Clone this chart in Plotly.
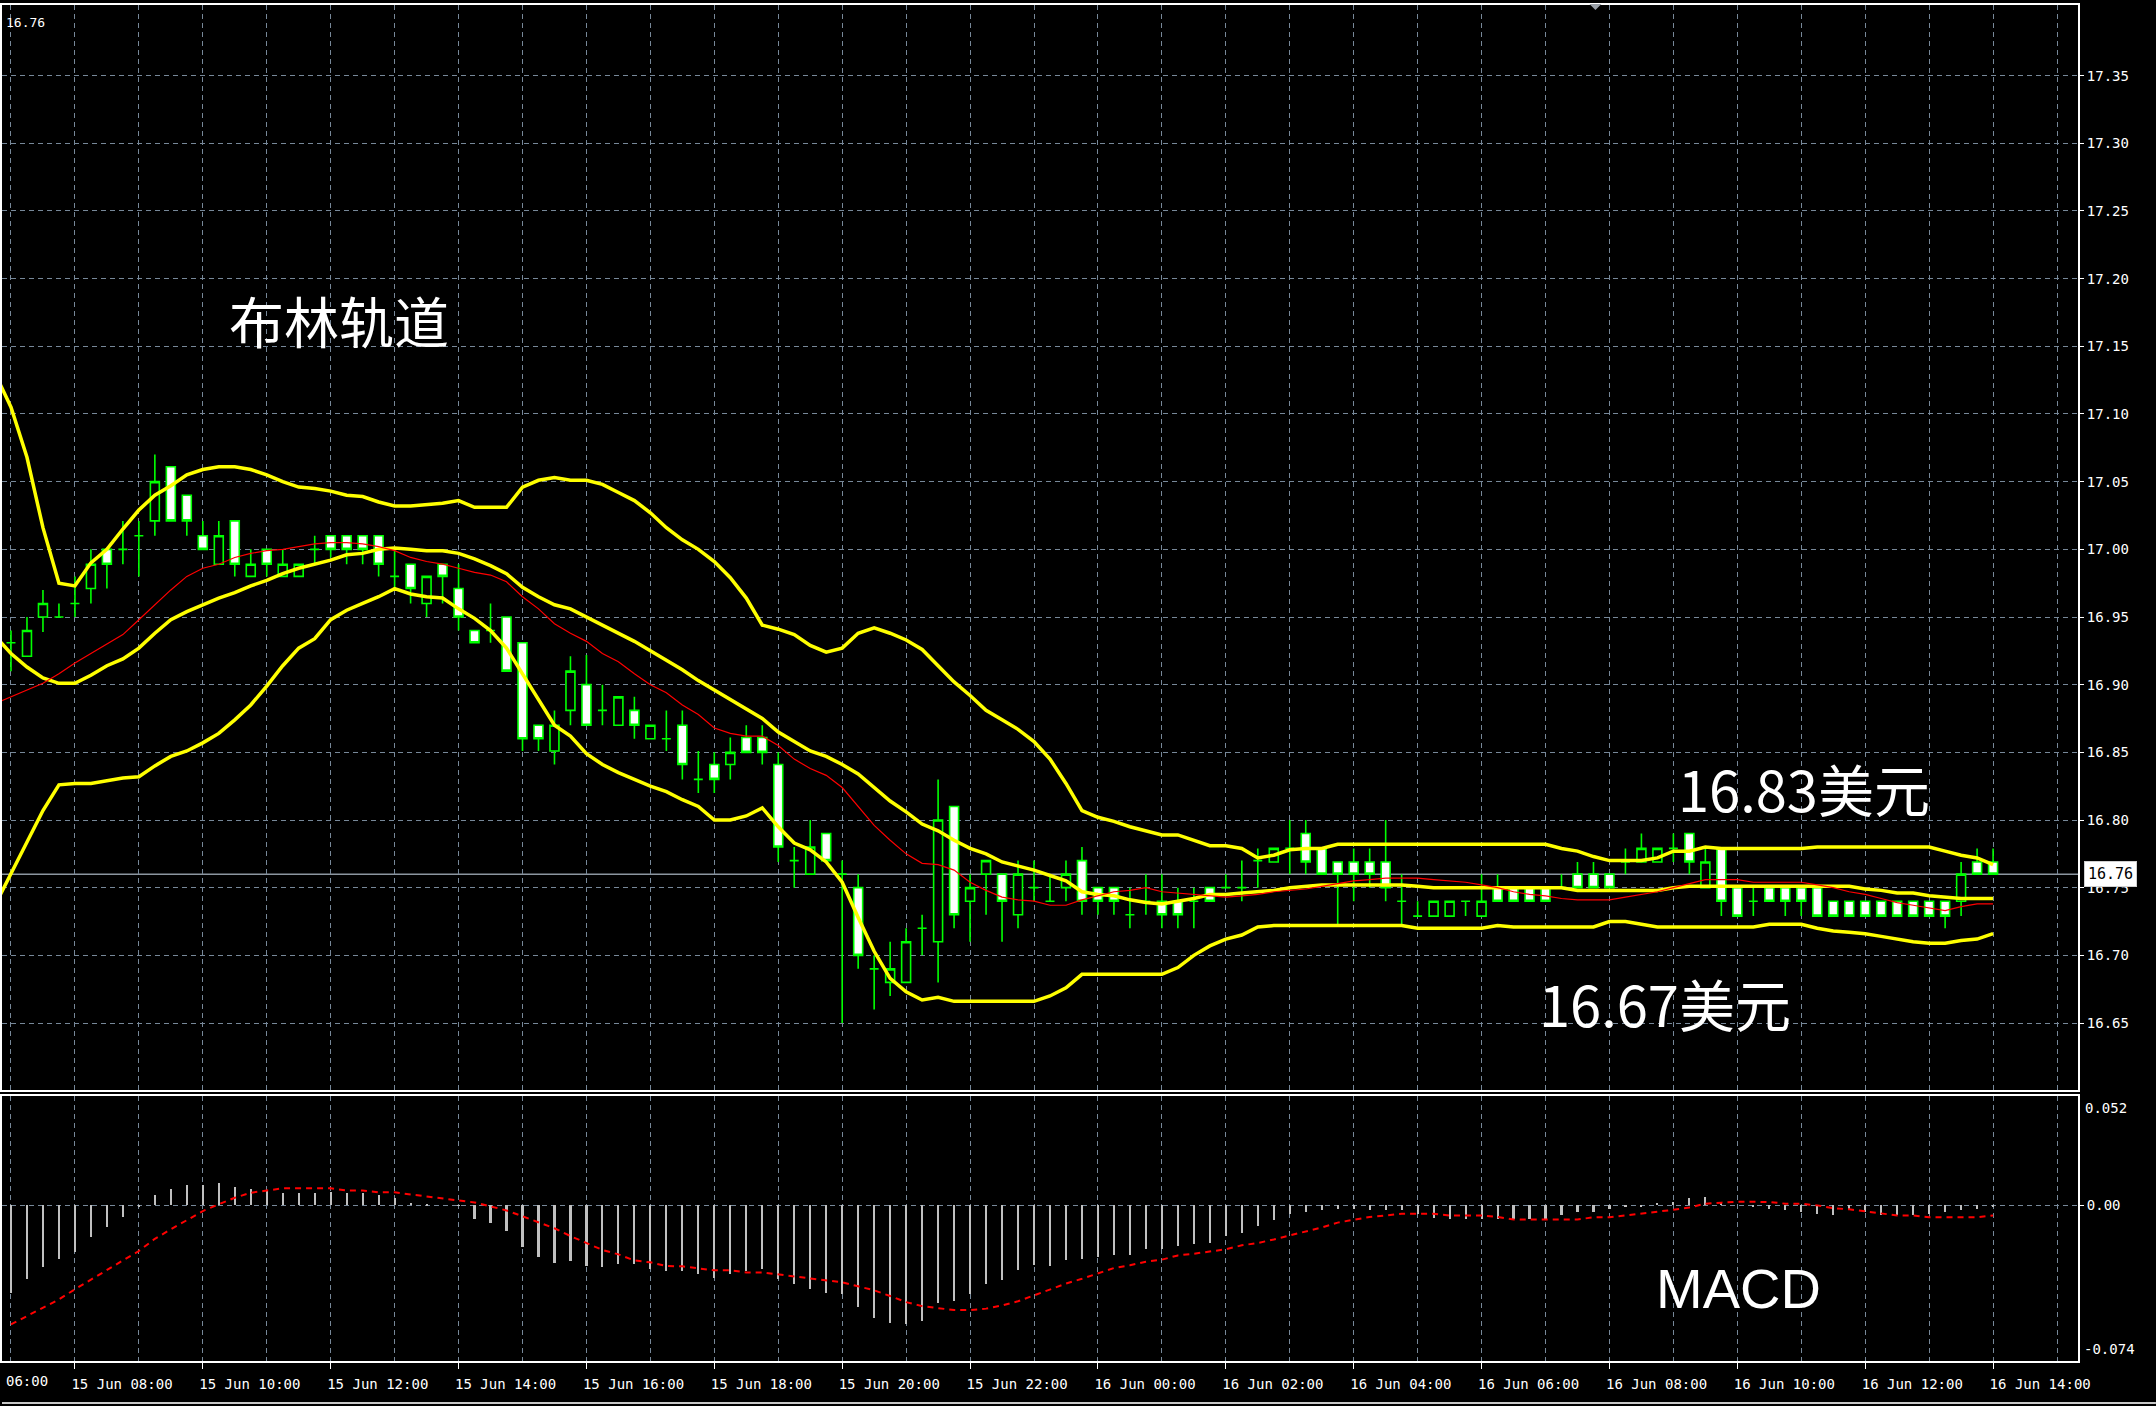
import pandas as pd
import plotly.graph_objects as go
from plotly.subplots import make_subplots

# ---------------- data ----------------
candle_start = "2017-06-15 07:00"   # 15-minute candles
line_start = "2017-06-15 06:45"     # indicator lines start one bar earlier (left edge)

opens = [16.931, 16.921, 16.950, 16.950, 16.960, 16.971, 17.000, 17.000, 17.010, 17.021,
         17.061, 17.040, 17.010, 16.989, 17.021, 16.980, 17.000, 16.980, 16.980, 17.000,
         17.010, 17.010, 17.010, 17.010, 16.980, 16.989, 16.960, 16.989, 16.971, 16.940,
         16.940, 16.950, 16.931, 16.870, 16.851, 16.881, 16.900, 16.881, 16.870, 16.881,
         16.860, 16.860, 16.870, 16.830, 16.841, 16.841, 16.861, 16.861, 16.841, 16.770,
         16.760, 16.790, 16.760, 16.750, 16.690, 16.680, 16.680, 16.720, 16.710, 16.810,
         16.740, 16.760, 16.760, 16.730, 16.750, 16.740, 16.750, 16.770, 16.750, 16.750,
         16.730, 16.740, 16.740, 16.740, 16.740, 16.750, 16.750, 16.750, 16.770, 16.769,
         16.779, 16.790, 16.779, 16.769, 16.769, 16.769, 16.769, 16.740, 16.729, 16.729,
         16.729, 16.740, 16.729, 16.750, 16.750, 16.750, 16.750, 16.750, 16.760, 16.760,
         16.760, 16.769, 16.769, 16.769, 16.779, 16.790, 16.750, 16.779, 16.750, 16.740,
         16.750, 16.750, 16.750, 16.750, 16.740, 16.740, 16.740, 16.740, 16.740, 16.740,
         16.740, 16.740, 16.740, 16.769, 16.769]
highs = [16.940, 16.950, 16.970, 16.960, 16.980, 17.000, 17.000, 17.021, 17.021, 17.070,
         17.061, 17.040, 17.021, 17.021, 17.021, 17.000, 17.000, 17.000, 16.989, 17.010,
         17.010, 17.010, 17.010, 17.010, 17.000, 16.989, 16.980, 16.989, 16.989, 16.940,
         16.960, 16.950, 16.931, 16.870, 16.881, 16.921, 16.922, 16.900, 16.891, 16.891,
         16.870, 16.881, 16.881, 16.851, 16.850, 16.861, 16.870, 16.870, 16.850, 16.780,
         16.800, 16.790, 16.770, 16.760, 16.700, 16.710, 16.720, 16.730, 16.830, 16.810,
         16.760, 16.770, 16.760, 16.770, 16.770, 16.760, 16.770, 16.780, 16.750, 16.750,
         16.750, 16.760, 16.760, 16.750, 16.750, 16.750, 16.760, 16.770, 16.779, 16.779,
         16.800, 16.800, 16.779, 16.769, 16.779, 16.779, 16.800, 16.760, 16.740, 16.740,
         16.740, 16.740, 16.760, 16.760, 16.750, 16.750, 16.750, 16.760, 16.769, 16.769,
         16.760, 16.779, 16.790, 16.779, 16.790, 16.790, 16.779, 16.779, 16.750, 16.750,
         16.750, 16.750, 16.750, 16.750, 16.740, 16.740, 16.740, 16.740, 16.740, 16.740,
         16.740, 16.740, 16.769, 16.779, 16.779]
lows = [16.910, 16.921, 16.939, 16.950, 16.950, 16.960, 16.971, 16.989, 16.980, 17.010,
        17.021, 17.010, 17.000, 16.989, 16.980, 16.980, 16.980, 16.980, 16.980, 16.989,
        16.994, 16.989, 16.989, 16.980, 16.971, 16.960, 16.950, 16.960, 16.940, 16.931,
        16.931, 16.910, 16.851, 16.851, 16.841, 16.870, 16.870, 16.870, 16.870, 16.860,
        16.860, 16.851, 16.830, 16.820, 16.820, 16.830, 16.850, 16.841, 16.769, 16.750,
        16.760, 16.770, 16.650, 16.690, 16.660, 16.670, 16.680, 16.700, 16.680, 16.720,
        16.710, 16.730, 16.710, 16.720, 16.740, 16.740, 16.740, 16.730, 16.730, 16.730,
        16.720, 16.730, 16.720, 16.720, 16.720, 16.740, 16.750, 16.740, 16.750, 16.769,
        16.760, 16.760, 16.760, 16.723, 16.740, 16.750, 16.740, 16.723, 16.729, 16.729,
        16.729, 16.729, 16.729, 16.740, 16.740, 16.740, 16.740, 16.750, 16.750, 16.750,
        16.750, 16.760, 16.769, 16.769, 16.769, 16.760, 16.750, 16.729, 16.729, 16.729,
        16.740, 16.729, 16.729, 16.729, 16.729, 16.729, 16.729, 16.729, 16.729, 16.729,
        16.729, 16.720, 16.729, 16.760, 16.760]
closes = [16.931, 16.940, 16.960, 16.950, 16.960, 16.989, 16.989, 17.000, 17.010, 17.050,
          17.021, 17.021, 17.000, 17.010, 16.989, 16.989, 16.989, 16.989, 16.989, 17.000,
          17.000, 17.000, 17.000, 16.989, 16.980, 16.971, 16.980, 16.980, 16.950, 16.931,
          16.940, 16.910, 16.860, 16.860, 16.870, 16.910, 16.870, 16.881, 16.891, 16.870,
          16.870, 16.860, 16.841, 16.830, 16.830, 16.850, 16.850, 16.850, 16.780, 16.770,
          16.780, 16.770, 16.760, 16.700, 16.690, 16.690, 16.710, 16.720, 16.800, 16.730,
          16.750, 16.770, 16.740, 16.760, 16.750, 16.740, 16.760, 16.740, 16.740, 16.740,
          16.730, 16.740, 16.730, 16.730, 16.740, 16.740, 16.750, 16.750, 16.770, 16.779,
          16.779, 16.769, 16.760, 16.760, 16.760, 16.760, 16.750, 16.740, 16.729, 16.740,
          16.740, 16.740, 16.740, 16.740, 16.740, 16.740, 16.740, 16.750, 16.750, 16.750,
          16.750, 16.769, 16.779, 16.779, 16.779, 16.769, 16.769, 16.740, 16.729, 16.740,
          16.740, 16.740, 16.740, 16.729, 16.729, 16.729, 16.729, 16.729, 16.729, 16.729,
          16.729, 16.729, 16.760, 16.760, 16.760]

bb_upper = [17.130, 17.105, 17.068, 17.016, 16.975, 16.973, 16.990, 17.000, 17.015, 17.029, 17.040,
            17.047, 17.055, 17.059, 17.061, 17.061, 17.059, 17.055, 17.050, 17.046, 17.045,
            17.043, 17.040, 17.039, 17.035, 17.032, 17.032, 17.033, 17.034, 17.036, 17.031,
            17.031, 17.031, 17.046, 17.051, 17.053, 17.051, 17.051, 17.048, 17.042, 17.036,
            17.027, 17.016, 17.007, 17.000, 16.991, 16.979, 16.964, 16.944, 16.941, 16.937,
            16.929, 16.924, 16.927, 16.938, 16.942, 16.938, 16.933, 16.926, 16.914, 16.902,
            16.892, 16.881, 16.874, 16.867, 16.858, 16.845, 16.827, 16.807, 16.802, 16.799,
            16.795, 16.792, 16.789, 16.789, 16.785, 16.781, 16.781, 16.779, 16.772, 16.774,
            16.778, 16.779, 16.779, 16.782, 16.782, 16.782, 16.782, 16.782, 16.782, 16.782,
            16.782, 16.782, 16.782, 16.782, 16.782, 16.782, 16.782, 16.779, 16.777, 16.773,
            16.770, 16.770, 16.770, 16.772, 16.777, 16.777, 16.780, 16.779, 16.779, 16.779,
            16.779, 16.779, 16.779, 16.780, 16.780, 16.780, 16.780, 16.780, 16.780, 16.780,
            16.780, 16.777, 16.774, 16.772, 16.767]
bb_middle = [16.936, 16.923, 16.913, 16.905, 16.901, 16.901, 16.907, 16.914, 16.919, 16.927, 16.938,
             16.948, 16.954, 16.959, 16.964, 16.968, 16.973, 16.977, 16.982, 16.986, 16.989,
             16.992, 16.996, 16.997, 17.000, 17.001, 17.000, 16.999, 16.999, 16.997, 16.993,
             16.988, 16.982, 16.972, 16.965, 16.959, 16.956, 16.950, 16.944, 16.938, 16.932,
             16.925, 16.918, 16.911, 16.903, 16.896, 16.889, 16.882, 16.875, 16.865, 16.858,
             16.851, 16.847, 16.841, 16.834, 16.824, 16.814, 16.806, 16.797, 16.792, 16.785,
             16.779, 16.775, 16.769, 16.766, 16.763, 16.759, 16.755, 16.747, 16.745, 16.744,
             16.741, 16.739, 16.738, 16.740, 16.742, 16.745, 16.745, 16.746, 16.747, 16.748,
             16.750, 16.751, 16.752, 16.752, 16.752, 16.752, 16.752, 16.752, 16.751, 16.750,
             16.750, 16.750, 16.750, 16.750, 16.750, 16.750, 16.750, 16.750, 16.748, 16.748,
             16.748, 16.748, 16.748, 16.748, 16.750, 16.751, 16.751, 16.751, 16.751, 16.751,
             16.751, 16.751, 16.751, 16.751, 16.751, 16.751, 16.749, 16.748, 16.746, 16.746,
             16.744, 16.743, 16.742, 16.742, 16.742]
bb_lower = [16.737, 16.760, 16.783, 16.807, 16.826, 16.827, 16.827, 16.829, 16.831, 16.832, 16.840,
            16.847, 16.851, 16.857, 16.864, 16.874, 16.885, 16.899, 16.914, 16.927, 16.934,
            16.948, 16.955, 16.960, 16.965, 16.971, 16.967, 16.965, 16.964, 16.956, 16.949,
            16.940, 16.927, 16.908, 16.889, 16.870, 16.862, 16.849, 16.841, 16.835, 16.830,
            16.825, 16.821, 16.815, 16.810, 16.800, 16.800, 16.803, 16.809, 16.795, 16.783,
            16.778, 16.769, 16.754, 16.728, 16.703, 16.683, 16.673, 16.667, 16.669, 16.666,
            16.666, 16.666, 16.666, 16.666, 16.666, 16.670, 16.676, 16.686, 16.686, 16.686,
            16.686, 16.686, 16.686, 16.691, 16.700, 16.707, 16.712, 16.715, 16.721, 16.722,
            16.722, 16.722, 16.722, 16.722, 16.722, 16.722, 16.722, 16.722, 16.720, 16.720,
            16.720, 16.720, 16.720, 16.722, 16.721, 16.721, 16.721, 16.721, 16.721, 16.721,
            16.725, 16.725, 16.723, 16.721, 16.721, 16.721, 16.721, 16.721, 16.721, 16.721,
            16.723, 16.723, 16.723, 16.720, 16.718, 16.717, 16.716, 16.714, 16.712, 16.710,
            16.709, 16.709, 16.711, 16.712, 16.716]
ma_red = [16.886, 16.891, 16.896, 16.901, 16.908, 16.916, 16.923, 16.930, 16.937, 16.948, 16.959,
          16.970, 16.980, 16.986, 16.989, 16.994, 16.997, 16.999, 17.000, 17.002, 17.004,
          17.005, 17.005, 17.004, 17.002, 16.999, 16.994, 16.991, 16.989, 16.986, 16.983,
          16.981, 16.976, 16.965, 16.956, 16.945, 16.938, 16.932, 16.923, 16.917, 16.908,
          16.900, 16.894, 16.885, 16.878, 16.868, 16.864, 16.862, 16.862, 16.855, 16.845,
          16.838, 16.833, 16.824, 16.810, 16.796, 16.785, 16.775, 16.768, 16.767, 16.763,
          16.754, 16.748, 16.743, 16.741, 16.740, 16.737, 16.737, 16.741, 16.744, 16.747,
          16.748, 16.750, 16.747, 16.746, 16.745, 16.744, 16.743, 16.744, 16.745, 16.747,
          16.748, 16.749, 16.751, 16.753, 16.755, 16.756, 16.757, 16.757, 16.757, 16.756,
          16.755, 16.754, 16.752, 16.750, 16.747, 16.745, 16.744, 16.742, 16.741, 16.741,
          16.741, 16.743, 16.745, 16.747, 16.750, 16.753, 16.756, 16.756, 16.756, 16.754,
          16.754, 16.754, 16.754, 16.752, 16.750, 16.747, 16.745, 16.742, 16.739, 16.737,
          16.735, 16.733, 16.736, 16.738, 16.738]

macd_hist = [-0.0415, -0.0352, -0.0293, -0.0257, -0.0222, -0.0151, -0.0103, -0.0055, -0.0005, 0.0048,
             0.0076, 0.0095, 0.0095, 0.0105, 0.0087, 0.0076, 0.0068, 0.0057, 0.0057, 0.0057,
             0.0065, 0.0057, 0.0057, 0.0048, 0.0036, 0.0010, 0.0003, 0.0000, -0.0003, -0.0067,
             -0.0086, -0.0122, -0.0198, -0.0246, -0.0273, -0.0265, -0.0288, -0.0293, -0.0281, -0.0281,
             -0.0304, -0.0312, -0.0312, -0.0328, -0.0344, -0.0328, -0.0312, -0.0304, -0.0352, -0.0376,
             -0.0399, -0.0415, -0.0423, -0.0483, -0.0534, -0.0558, -0.0566, -0.0550, -0.0463, -0.0455,
             -0.0423, -0.0376, -0.0357, -0.0309, -0.0285, -0.0290, -0.0261, -0.0254, -0.0246, -0.0235,
             -0.0235, -0.0206, -0.0206, -0.0195, -0.0185, -0.0178, -0.0147, -0.0130, -0.0100, -0.0071,
             -0.0040, -0.0032, -0.0024, -0.0019, -0.0019, -0.0024, -0.0024, -0.0024, -0.0040, -0.0060,
             -0.0063, -0.0063, -0.0063, -0.0063, -0.0063, -0.0063, -0.0063, -0.0048, -0.0032, -0.0032,
             -0.0016, -0.0008, -0.0008, 0.0013, 0.0016, 0.0035, 0.0040, 0.0016, 0.0000, -0.0008,
             -0.0016, -0.0024, -0.0032, -0.0040, -0.0044, -0.0024, -0.0032, -0.0048, -0.0048, -0.0048,
             -0.0040, -0.0032, -0.0024, -0.0016, -0.0008]
macd_signal = [-0.0566, -0.0526, -0.0483, -0.0447, -0.0399, -0.0352, -0.0307, -0.0262, -0.0217, -0.0159,
               -0.0114, -0.0071, -0.0027, 0.0005, 0.0036, 0.0060, 0.0071, 0.0081, 0.0081, 0.0081,
               0.0081, 0.0071, 0.0071, 0.0062, 0.0062, 0.0052, 0.0043, 0.0033, 0.0024, 0.0014,
               -0.0005, -0.0024, -0.0052, -0.0081, -0.0109, -0.0146, -0.0178, -0.0212, -0.0233, -0.0262,
               -0.0271, -0.0288, -0.0290, -0.0300, -0.0309, -0.0309, -0.0319, -0.0319, -0.0328, -0.0338,
               -0.0347, -0.0357, -0.0366, -0.0385, -0.0404, -0.0431, -0.0460, -0.0479, -0.0490, -0.0498,
               -0.0498, -0.0491, -0.0476, -0.0456, -0.0428, -0.0399, -0.0372, -0.0349, -0.0322, -0.0298,
               -0.0285, -0.0268, -0.0258, -0.0238, -0.0230, -0.0220, -0.0209, -0.0190, -0.0179, -0.0162,
               -0.0143, -0.0124, -0.0105, -0.0082, -0.0067, -0.0055, -0.0048, -0.0040, -0.0040, -0.0040,
               -0.0048, -0.0048, -0.0048, -0.0055, -0.0067, -0.0067, -0.0067, -0.0067, -0.0067, -0.0057,
               -0.0057, -0.0048, -0.0040, -0.0032, -0.0021, -0.0010, 0.0008, 0.0013, 0.0017, 0.0017,
               0.0016, 0.0008, 0.0008, 0.0000, -0.0013, -0.0019, -0.0029, -0.0040, -0.0048, -0.0048,
               -0.0057, -0.0057, -0.0057, -0.0057, -0.0048]

price_ticks = [16.65, 16.70, 16.75, 16.80, 16.85, 16.90, 16.95, 17.00, 17.05, 17.10, 17.15, 17.20, 17.25, 17.30, 17.35]
last_price = 16.76
macd_max, macd_min = 0.052, -0.074
edge_time_label = "06:00"   # visible part of the first time label at the left edge

candle_times = pd.date_range(candle_start, periods=len(closes), freq="15min")
line_times = pd.date_range(line_start, periods=len(bb_upper), freq="15min")

# ---------------- figure ----------------
W, H = 2156, 1406
ML, MR, MT, MB = 0, 78, 5, 45
plot_h = H - MT - MB
pw = W - ML - MR
main_bottom_px, macd_top_px = 1090, 1096
main_dom = [(H - MB - main_bottom_px) / plot_h, 1.0]
macd_dom = [0.0, (H - MB - macd_top_px) / plot_h]

GRID = "#778899"
WHITE = "#ffffff"
AXFONT = dict(family="DejaVu Sans Mono", size=14, color=WHITE)

fig = make_subplots(rows=2, cols=1, shared_xaxes=True, vertical_spacing=0.0)

fig.add_trace(go.Candlestick(
    x=candle_times, open=opens, high=highs, low=lows, close=closes,
    increasing=dict(line=dict(color="#00ff00", width=1.6), fillcolor="#000000"),
    decreasing=dict(line=dict(color="#00ff00", width=1.6), fillcolor="#ffffff"),
    whiskerwidth=0, showlegend=False, hoverinfo="skip"), row=1, col=1)

for series, color, width in [(bb_upper, "#ffff00", 3.5), (bb_lower, "#ffff00", 3.5),
                             (bb_middle, "#ffff00", 3.5), (ma_red, "#ff0000", 1.2)]:
    fig.add_trace(go.Scatter(x=line_times, y=series, mode="lines",
                             line=dict(color=color, width=width),
                             showlegend=False, hoverinfo="skip"), row=1, col=1)

fig.add_trace(go.Bar(x=candle_times, y=macd_hist, width=120000,
                     marker=dict(color="#c0c0c0", line=dict(width=0)),
                     showlegend=False, hoverinfo="skip"), row=2, col=1)
fig.add_trace(go.Scatter(x=candle_times, y=macd_signal, mode="lines",
                         line=dict(color="#ff0000", width=2, dash="6px,5px"),
                         showlegend=False, hoverinfo="skip"), row=2, col=1)

x_range = ["2017-06-15 06:51:34", "2017-06-16 15:19:41"]
common_x = dict(range=x_range, showgrid=True, gridcolor=GRID, griddash="5px,4px", gridwidth=1,
                tick0="2017-06-15 06:00", dtick=7200000,
                minor=dict(tick0="2017-06-15 07:00", dtick=3600000, showgrid=True,
                           gridcolor=GRID, griddash="5px,4px", gridwidth=1),
                showline=True, linecolor=WHITE, linewidth=2, mirror=True, zeroline=False,
                rangeslider=dict(visible=False))
fig.update_xaxes(**common_x)
fig.update_xaxes(showticklabels=False, ticks="", row=1, col=1)
fig.update_xaxes(showticklabels=True, tickformat="%d %b %H:%M", ticklabelposition="outside right",
                 ticks="outside", ticklen=6, tickcolor=WHITE, tickwidth=1, tickfont=AXFONT,
                 ticklabelstandoff=9, ticklabelshift=-5, row=2, col=1)

fig.update_yaxes(domain=main_dom, range=[16.6005, 17.4022], side="right",
                 tickvals=price_ticks, ticktext=[f"{v:.2f}" for v in price_ticks],
                 showgrid=True, gridcolor=GRID, griddash="5px,4px", gridwidth=1,
                 ticks="outside", ticklen=4, tickcolor=WHITE, tickfont=AXFONT,
                 showline=True, linecolor=WHITE, linewidth=2, mirror=True, zeroline=False,
                 row=1, col=1)
fig.update_yaxes(domain=macd_dom, range=[macd_min, macd_max], side="right",
                 tickvals=[0], ticktext=["0.00"],
                 showgrid=True, gridcolor=GRID, griddash="5px,4px", gridwidth=1,
                 ticks="outside", ticklen=4, tickcolor=WHITE, tickfont=AXFONT,
                 showline=True, linecolor=WHITE, linewidth=2, mirror=True, zeroline=False,
                 row=2, col=1)

# current price line
fig.add_shape(type="line", xref="x domain", yref="y", x0=0, x1=1, y0=last_price, y1=last_price,
              line=dict(color="#8c96a0", width=1.5), layer="below")

def py(px):  # pixel row -> paper y
    return (H - MB - px) / plot_h

annotations = [
    dict(text="布林轨道", x=337 / pw, y=py(319), xanchor="center", yanchor="middle",
         font=dict(family="Noto Sans CJK SC", size=55, color=WHITE)),
    dict(text="16.83美元", x=1676 / pw, y=py(787), xanchor="left", yanchor="middle",
         font=dict(family="Noto Sans CJK SC", size=56, color=WHITE)),
    dict(text="16.67美元", x=1536 / pw, y=py(1002), xanchor="left", yanchor="middle",
         font=dict(family="Noto Sans CJK SC", size=56, color=WHITE)),
    dict(text="MACD", x=1654 / pw, y=py(1288), xanchor="left", yanchor="middle",
         font=dict(family="Liberation Sans", size=56, color=WHITE)),
    dict(text=f"{last_price:.2f}", x=2 / pw, y=py(22), xanchor="left", yanchor="middle",
         font=dict(family="DejaVu Sans Mono", size=13, color=WHITE)),
    dict(text=edge_time_label, x=2 / pw, y=py(1381), xanchor="left", yanchor="middle",
         font=AXFONT),
    dict(text=f"{macd_max:.3f}", x=1, y=py(1108), xanchor="left", yanchor="middle", xshift=5,
         font=AXFONT),
    dict(text=f"{macd_min:.3f}", x=1, y=py(1349), xanchor="left", yanchor="middle", xshift=4,
         font=AXFONT),
    dict(text=f"{last_price:.2f}", x=1, xref="paper", y=last_price, yref="y", xanchor="left",
         yanchor="middle", xshift=6, bgcolor=WHITE, bordercolor="#d0d0d0", borderpad=3,
         font=dict(family="DejaVu Sans Mono", size=15, color="#000000")),
]
for a in annotations:
    a.setdefault("xref", "paper")
    a.setdefault("yref", "paper")
    a["showarrow"] = False
fig.update_layout(annotations=annotations)

# chart-shift marker at the top and window border at the bottom
fig.add_shape(type="path", xref="paper", yref="paper",
              path=f"M {1589/pw},{py(4)} L {1601/pw},{py(4)} L {1595/pw},{py(10)} Z",
              fillcolor="#9aa0a8", line=dict(width=0))
fig.add_shape(type="line", xref="paper", yref="paper", x0=0, x1=W / pw, y0=py(1403), y1=py(1403),
              line=dict(color="#c8c8c8", width=2))

fig.update_layout(width=W, height=H, margin=dict(l=ML, r=MR, t=MT, b=MB),
                  paper_bgcolor="#000000", plot_bgcolor="#000000",
                  boxgap=0.2, showlegend=False, bargap=0)

fig.write_html("out.html", config={"displayModeBar": False},
               post_script="document.body.style.margin='0';document.body.style.overflow='hidden';")
